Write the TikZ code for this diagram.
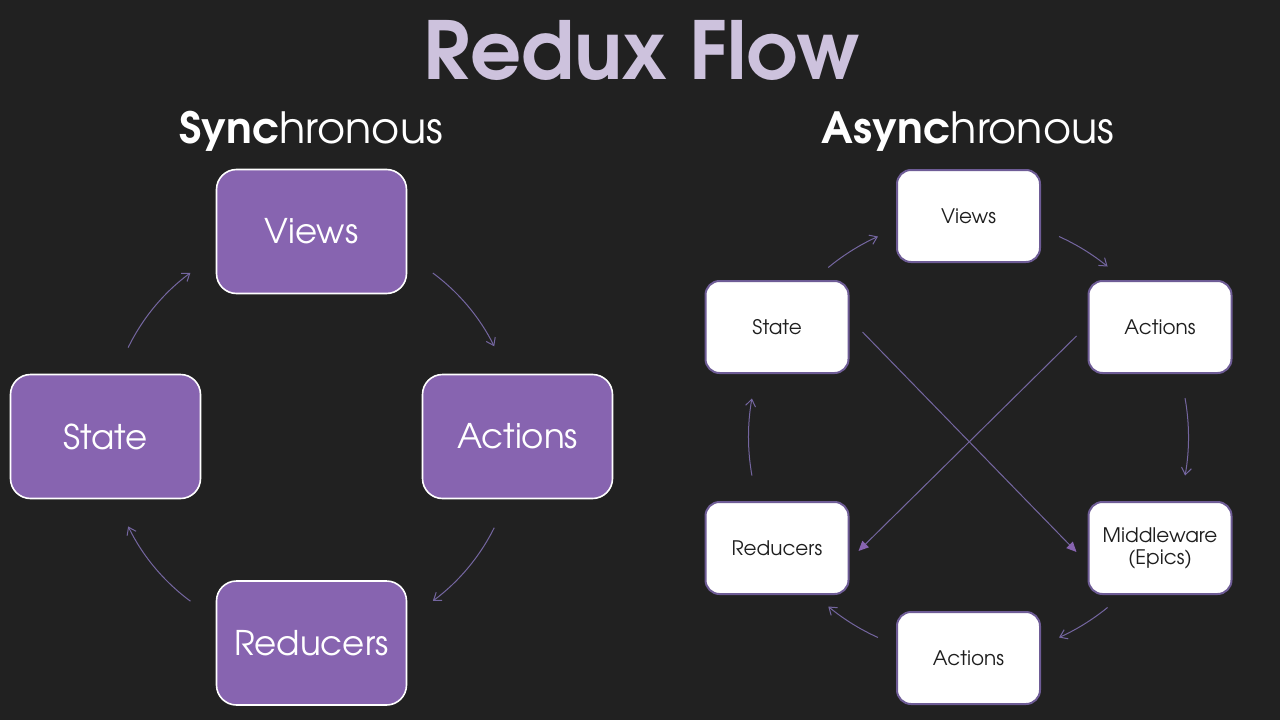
\documentclass[tikz,border=0pt]{standalone}
\usepackage{fontspec}
\setmainfont{TeX Gyre Adventor}
\usetikzlibrary{arrows.meta,calc}
\definecolor{bg}{HTML}{212121}
\definecolor{titlec}{HTML}{CDC2DD}
\definecolor{lpurple}{HTML}{8764B0}
\definecolor{rborder}{HTML}{6E5C96}
\definecolor{arrowc}{HTML}{7466A0}
\definecolor{darktext}{HTML}{1E1E1E}
\tikzset{
  lbox/.style={rounded corners=20pt, fill=lpurple, draw=white, line width=1.6pt,
    minimum width=190pt, minimum height=124pt, text=white, font=\fontsize{34}{38}\selectfont},
  rbox/.style={rounded corners=14pt, fill=white, draw=rborder, line width=2pt,
    minimum width=143pt, minimum height=92pt, text=darktext, align=center,
    font=\fontsize{20}{22}\selectfont},
  arcarrow/.style={draw=arrowc, line width=1pt, -{Straight Barb[length=7pt,width=10pt]}},
  diagarrow/.style={draw=arrowc, line width=1pt, -{Triangle[length=10pt,width=9pt,color=lpurple]}},
}
\begin{document}
\begin{tikzpicture}[x=1pt,y=-1pt]
\fill[bg] (0,0) rectangle (1280,720);
\useasboundingbox (0,0) rectangle (1280,720);

% titles
\node[anchor=base, text=titlec, font=\fontsize{80}{80}\selectfont\bfseries, inner sep=0] (title) at (642,79) {Redux Flow};
\node[anchor=base, text=white, font=\fontsize{43}{45}\selectfont, inner sep=0] (synch) at (311,143) {\textbf{Sync}hronous};
\node[anchor=base, text=white, font=\fontsize{43}{45}\selectfont, inner sep=0] (asynch) at (968,143) {\textbf{Async}hronous};

% left diagram
\node[lbox] (lviews) at (311.5,231.5) {Views};
\node[lbox] (lstate) at (105.5,436.5) {State};
\node[lbox] (lactions) at (517.5,436.5) {Actions};
\node[lbox] (lreducers) at (311.5,643) {Reducers};
\coordinate (lc) at (311.5,437);

\draw[arcarrow] ($(lc)+(-154:204)$) arc[start angle=-154, end angle=-126.4, radius=204];
\draw[arcarrow] ($(lc)+(-53.5:204)$) arc[start angle=-53.5, end angle=-26.4, radius=204];
\draw[arcarrow] ($(lc)+(26.4:204)$) arc[start angle=26.4, end angle=53.5, radius=204];
\draw[arcarrow] ($(lc)+(126.4:204)$) arc[start angle=126.4, end angle=154, radius=204];

% right diagram
\node[rbox] (rviews) at (968.5,216) {Views};
\node[rbox] (rstate) at (777,327) {State};
\node[rbox] (ractions) at (1160,327) {Actions};
\node[rbox] (rreducers) at (777,548) {Reducers};
\node[rbox] (rmiddle) at (1160,548) {Middleware\\(Epics)};
\node[rbox] (ractions2) at (968.5,658) {Actions};
\coordinate (rc) at (968.5,437);

\draw[arcarrow] ($(rc)+(-129.6:220)$) arc[start angle=-129.6, end angle=-114.3, radius=220];
\draw[arcarrow] ($(rc)+(-65.7:220)$) arc[start angle=-65.7, end angle=-50.8, radius=220];
\draw[arcarrow] ($(rc)+(-10.2:220)$) arc[start angle=-10.2, end angle=10.1, radius=220];
\draw[arcarrow] ($(rc)+(50.8:220)$) arc[start angle=50.8, end angle=65.7, radius=220];
\draw[arcarrow] ($(rc)+(114.3:220)$) arc[start angle=114.3, end angle=129.6, radius=220];
\draw[arcarrow] ($(rc)+(-190.1:220)$) arc[start angle=-190.1, end angle=-169.9, radius=220];

% diagonal arrows
\coordinate (d1s) at ($(rstate.east)+(13,5)$);
\coordinate (d1e) at ($(rmiddle.west)+(-11,4)$);
\coordinate (d2s) at ($(ractions.west)+(-11,9)$);
\coordinate (d2e) at ($(rreducers.east)+(9,3)$);
\draw[diagarrow] (d1s) -- (d1e);
\draw[diagarrow] (d2s) -- (d2e);
\end{tikzpicture}
\end{document}
